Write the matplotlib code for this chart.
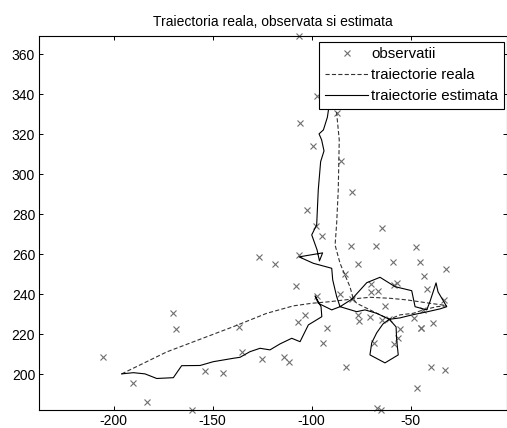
import matplotlib
matplotlib.use("Agg")
import matplotlib.pyplot as plt

plt.rcParams['font.family'] = ['Liberation Sans', 'DejaVu Sans']
plt.rcParams['lines.scale_dashes'] = False
plt.rcParams['axes.unicode_minus'] = False

# observations (x markers)
obs_x = [-106.4, -97.5, -87.4, -105.9, -99.2, -85.4, -79.8, -102.2, -98.0, -95.0,
         -64.6, -80.3, -67.5, -47.2, -126.5, -118.7, -106.6, -76.4, -59.2, -45.3,
         -32.2, -83.3, -43.3, -107.7, -70.1, -66.5, -70.1, -57.1, -58.3, -41.6,
         -85.7, -97.5, -33.0, -63.0, -79.8, -103.4, -106.8, -76.4, -76.0, -70.8,
         -61.0, -64.6, -92.3, -94.4, -68.4, -58.2, -56.6, -55.4, -48.3, -38.6,
         -44.9, -44.6, -136.6, -135.4, -125.3, -113.9, -111.5, -82.8, -39.7, -32.7,
         -47.0, -66.9, -65.0, -205.3, -169.9, -168.7, -190.4, -183.3, -153.9, -144.6,
         -160.6, -43.6]
obs_y = [369.2, 339.2, 330.5, 325.5, 314.2, 306.8, 291.0, 282.2, 274.2, 269.3,
         272.9, 264.2, 264.2, 263.4, 258.5, 255.2, 259.7, 255.2, 256.3, 256.3,
         252.5, 249.9, 249.2, 244.2, 245.2, 241.8, 241.3, 245.8, 244.8, 242.5,
         240.2, 238.9, 237.2, 234.2, 237.5, 229.8, 226.0, 229.7, 226.8, 228.7,
         227.4, 227.2, 223.3, 215.5, 215.7, 215.3, 218.0, 222.8, 228.0, 225.5,
         223.2, 223.0, 223.5, 211.2, 207.8, 208.7, 206.0, 203.4, 203.4, 202.2,
         193.3, 182.9, 182.2, 208.8, 230.5, 222.7, 195.8, 186.3, 201.8, 200.8,
         182.1, 232.2]

# true trajectory (dashed)
true_x = [-196.0, -173.2, -156.4, -139.6, -122.7, -109.3, -100.0, -90.8, -79.0,
          -70.6, -60.5, -52.0, -40.3, -33.5, -32.0,
          -36.9, -43.6, -48.7, -55.4, -60.8,
          -67.2, -72.2, -77.3, -79.0,
          -80.7, -83.2, -85.7, -88.2, -87.4, -86.6, -86.1, -87.4, -87.2]
true_y = [200.2, 211.2, 217.5, 223.8, 230.5, 234.2, 235.5, 236.3, 237.7,
          238.5, 238.0, 237.2, 235.5, 234.6, 234.2,
          233.8, 232.2, 230.5, 229.7, 227.5,
          230.5, 233.0, 235.5, 237.7,
          243.8, 249.6, 255.5, 264.6, 275.6, 292.2, 317.2, 330.5, 345.0]

# estimated trajectory (solid)
est_x = [-196.0, -190.1, -184.2, -178.3, -169.9, -165.7, -156.4, -149.7, -139.6, -136.2,
         -131.2, -126.1, -121.1, -116.0, -110.1, -105.9, -101.7, -94.9, -95.3, -98.3,
         -96.7, -89.9, -85.7, -79.8, -72.2, -65.5, -57.9, -49.5, -48.7, -47.8,
         -41.9, -40.3, -37.2, -36.2, -31.8, -35.2, -41.9, -49.3, -55.4, -60.8,
         -64.0, -67.2, -69.7, -70.6, -63.0, -56.3, -57.1, -57.4, -60.8, -67.2,
         -73.1, -77.3, -85.7, -87.4, -89.4, -89.9, -99.2, -106.4, -94.5, -96.1,
         -97.3, -100.0, -97.5, -96.7, -95.5, -93.8, -95.0, -96.3, -94.1, -92.1,
         -90.8, -93.0, -94.0]
est_y = [200.2, 200.8, 200.2, 197.9, 198.3, 204.3, 204.4, 206.3, 208.0, 208.5,
         211.3, 213.0, 212.2, 215.2, 218.0, 216.3, 224.7, 228.8, 233.8, 239.2,
         235.5, 232.2, 233.8, 237.5, 245.8, 248.5, 243.8, 241.8, 238.0, 233.8,
         232.2, 236.3, 245.7, 241.2, 233.8, 232.7, 231.2, 229.7, 228.2, 227.5,
         225.2, 220.7, 215.7, 209.7, 205.7, 209.7, 217.2, 223.7, 227.5, 230.5,
         232.2, 231.3, 233.8, 238.8, 247.2, 253.0, 255.5, 258.7, 260.7, 256.7,
         262.2, 269.7, 274.7, 292.2, 306.3, 311.7, 317.2, 320.2, 322.2, 328.5,
         337.2, 350.0, 356.0]

x_ticks = [-200, -150, -100, -50]
y_ticks = [200, 220, 240, 260, 280, 300, 320, 340, 360]

fig = plt.figure(figsize=(5.07, 4.28), dpi=100)
ax = fig.add_axes([0.0775, 0.0421, 0.922, 0.8738])

ax.plot(obs_x, obs_y, linestyle='none', marker='x', markersize=4.8,
        markeredgewidth=0.8, color='#6e6e6e', clip_on=False, label='observatii', zorder=2)
ax.plot(true_x, true_y, linestyle=(0, (3.0, 1.6)), color='#333333', linewidth=0.8,
        label='traiectorie reala', zorder=3)
ax.plot(est_x, est_y, linestyle='-', color='black', linewidth=0.8,
        label='traiectorie estimata', zorder=3)

ax.set_xlim(-237.6, -1.5)
ax.set_ylim(182.15, 369.15)
ax.set_xticks(x_ticks)
ax.set_yticks(y_ticks)
ax.tick_params(direction='in', length=3, width=0.7, top=True, right=True,
               labelsize=10, pad=3, colors='black')
for s in ax.spines.values():
    s.set_linewidth(0.8)
    s.set_color('black')

ax.set_title('Traiectoria reala, observata si estimata', fontsize=10, pad=7)

leg = ax.legend(loc='upper right', bbox_to_anchor=(0.9942, 0.985), fontsize=10.8,
                frameon=True, fancybox=False, edgecolor='black', framealpha=1,
                handlelength=2.9, handletextpad=0.2, labelspacing=0.45,
                borderpad=0.38, borderaxespad=0.0)
leg.get_frame().set_linewidth(0.8)
leg.set_zorder(10)

fig.savefig('out.png', dpi=100)
